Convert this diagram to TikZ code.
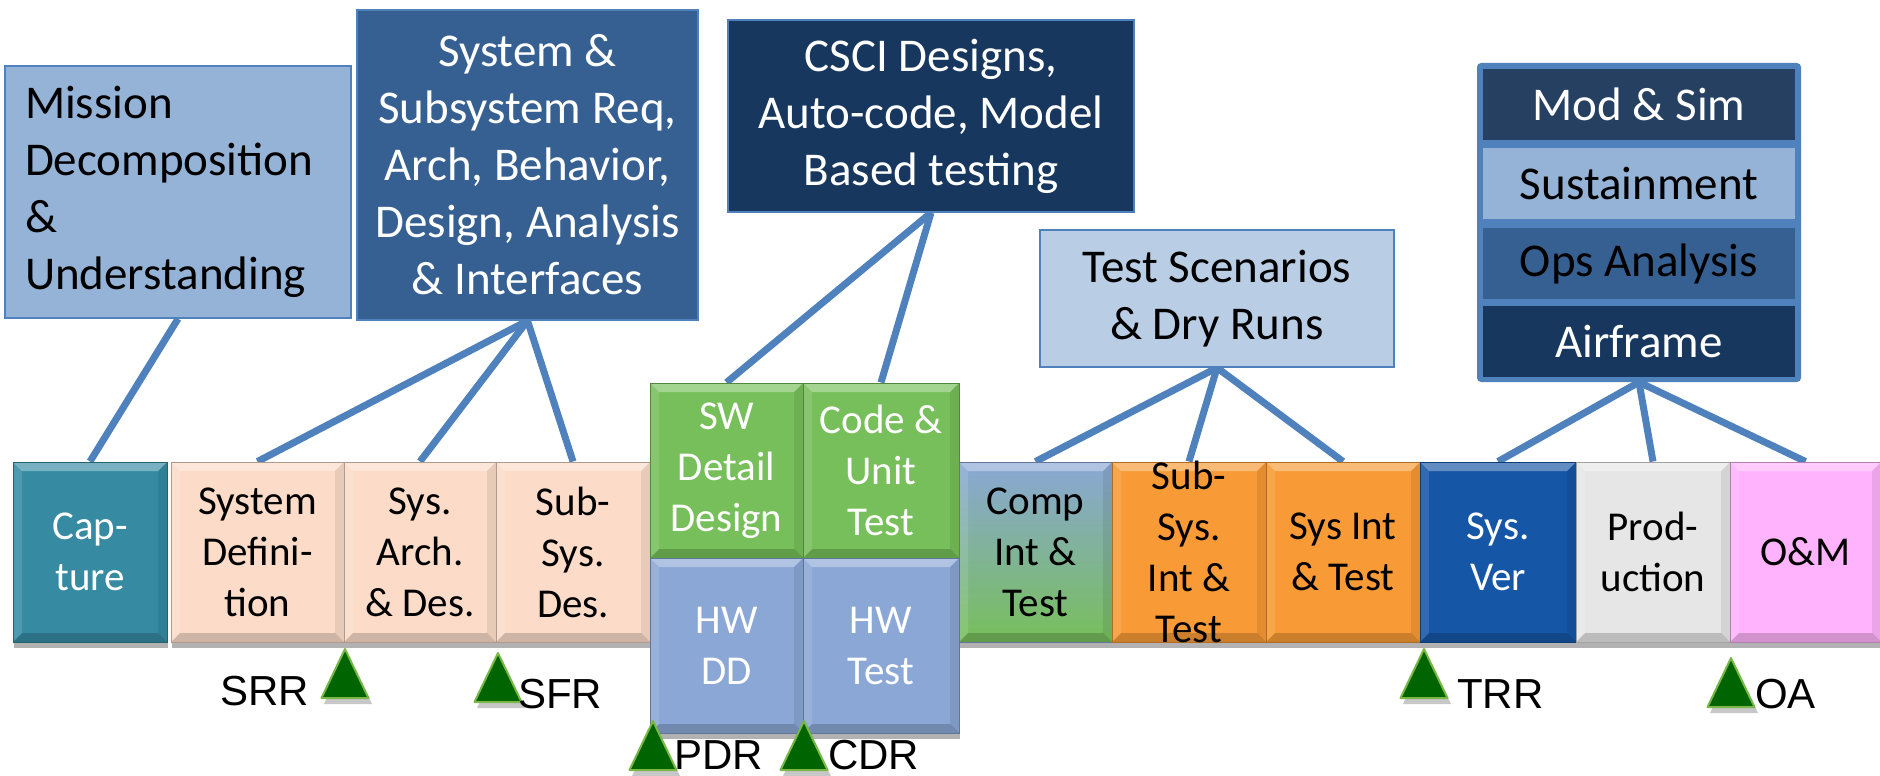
\documentclass[tikz,border=0pt]{standalone}
\usepackage{fontspec}
\setmainfont{Carlito}
\newfontfamily\arialfont{Liberation Sans}
\usetikzlibrary{shadows,backgrounds,calc}

\definecolor{linkblue}{HTML}{4F81BD}
\definecolor{missionfill}{HTML}{95B3D7}
\definecolor{sysfill}{HTML}{376092}
\definecolor{cscifill}{HTML}{17375E}
\definecolor{testfill}{HTML}{B9CDE5}
\definecolor{modsimfill}{HTML}{254061}
\definecolor{capcol}{HTML}{368BA3}
\definecolor{peach}{HTML}{FCDCC9}
\definecolor{swgreen}{HTML}{77BF5A}
\definecolor{hwblue}{HTML}{8AA7D6}
\definecolor{orng}{HTML}{F89A35}
\definecolor{verblue}{HTML}{1556A7}
\definecolor{prodgray}{HTML}{E6E6E6}
\definecolor{ompink}{HTML}{FFB3FC}
\definecolor{msgreen}{HTML}{006400}
\definecolor{mslime}{HTML}{7AB648}

\newcommand{\milestone}[2]{%
  \fill[black,opacity=0.22] (#1+3,#2+6) -- (#1+27,#2+55) -- (#1-21,#2+55) -- cycle;
  \filldraw[fill=msgreen, draw=mslime, line width=2pt, line join=round] (#1,#2) -- (#1+23.5,#2+49) -- (#1-23.5,#2+49) -- cycle;
}

\begin{document}
\begin{tikzpicture}[x=1pt,y=-1pt,
  bevel/.style={path picture={
    \fill[white,opacity=0.33] (path picture bounding box.north west) -- (path picture bounding box.north east) -- ([shift={(-9pt,-9pt)}]path picture bounding box.north east) -- ([shift={(9pt,-9pt)}]path picture bounding box.north west) -- cycle;
    \fill[black,opacity=0.18] (path picture bounding box.south west) -- (path picture bounding box.south east) -- ([shift={(-9pt,9pt)}]path picture bounding box.south east) -- ([shift={(9pt,9pt)}]path picture bounding box.south west) -- cycle;
    \fill[black,opacity=0.08] (path picture bounding box.north east) -- (path picture bounding box.south east) -- ([shift={(-9pt,9pt)}]path picture bounding box.south east) -- ([shift={(-9pt,-9pt)}]path picture bounding box.north east) -- cycle;
    \fill[white,opacity=0.12] (path picture bounding box.north west) -- (path picture bounding box.south west) -- ([shift={(9pt,9pt)}]path picture bounding box.south west) -- ([shift={(9pt,-9pt)}]path picture bounding box.north west) -- cycle;
  }},
  phase/.style={draw=#1!70!black, fill=#1, line width=1pt, inner sep=0pt, align=center,
    font=\fontsize{41}{51}\selectfont, bevel,
    drop shadow={shadow xshift=1pt, shadow yshift=-6pt, opacity=0.3, fill=black}},
  topbox/.style={draw=linkblue, line width=1.5pt, inner sep=0pt, align=center,
    font=\fontsize{47}{57}\selectfont},
  cell/.style={fill=#1, inner sep=0pt, minimum width=312pt, minimum height=71pt,
    font=\fontsize{47}{57}\selectfont},
  link/.style={draw=linkblue, line width=7pt},
  mslabel/.style={font=\arialfont\fontsize{42}{50}\selectfont, anchor=base west, inner sep=0pt}
]
\useasboundingbox (0,0) rectangle (1880,776);

% ---- top boxes
\node[topbox, fill=missionfill, minimum width=346pt, minimum height=252pt,
      align=left, text width=306pt] (mission) at (178,192)
  {Mission\\Decomposition\\\&\\Understanding};
\node[topbox, fill=sysfill, text=white, minimum width=341pt, minimum height=310pt] (system) at (527.5,165)
  {System \&\\Subsystem Req,\\Arch, Behavior,\\Design, Analysis\\\& Interfaces};
\node[topbox, fill=cscifill, text=white, minimum width=406pt, minimum height=192pt] (csci) at (931,116)
  {CSCI Designs,\\Auto-code, Model\\Based testing};
\node[topbox, fill=testfill, minimum width=354pt, minimum height=137pt] (test) at (1217,298.5)
  {Test Scenarios\\\& Dry Runs};

\node[fill=linkblue, rounded corners=4pt, minimum width=324pt, minimum height=319pt, inner sep=0pt] (stack) at (1639,222.5) {};
\node[cell=modsimfill, text=white] (modsim) at (1639,104.5) {Mod \& Sim};
\node[cell=missionfill] (sustain) at (1639,183.5) {Sustainment};
\node[cell=sysfill] (opsan) at (1639,263.5) {Ops Analysis};
\node[cell=cscifill, text=white] (airframe) at (1639,341.5) {Airframe};

% ---- phase boxes
\node[phase=capcol, text=white, minimum width=154pt, minimum height=180pt] (capture) at (90,552) {Cap-\\ture};
\node[phase=peach, minimum width=173pt, minimum height=180pt] (sysdef) at (257.5,552) {System\\Defini-\\tion};
\node[phase=peach, minimum width=152pt, minimum height=180pt] (sysarch) at (420,552) {Sys.\\Arch.\\\& Des.};
\node[phase=peach, minimum width=154pt, minimum height=180pt] (subsysdes) at (573,552) {Sub-\\Sys.\\Des.};

\node[phase=swgreen, text=white, minimum width=153pt, minimum height=175pt] (swdd) at (726.5,470.5) {SW\\Detail\\Design};
\node[phase=swgreen, text=white, minimum width=156pt, minimum height=175pt] (code) at (881,470.5) {Code \&\\Unit\\Test};
\node[phase=hwblue, text=white, minimum width=153pt, minimum height=175pt] (hwdd) at (726.5,645.5) {HW\\DD};
\node[phase=hwblue, text=white, minimum width=156pt, minimum height=175pt] (hwtest) at (881,645.5) {HW\\Test};

\node[phase=hwblue, top color=hwblue, bottom color=swgreen, minimum width=153pt, minimum height=180pt] (comp) at (1035.5,552) {Comp\\Int \&\\Test};
\node[phase=orng, minimum width=154pt, minimum height=180pt] (subsysint) at (1189,552) {};
\node[align=center, inner sep=0pt, font=\fontsize{41}{51}\selectfont] (subsysintT) at (subsysint.center) {Sub-\\Sys.\\Int \&\\Test};
\node[phase=orng, minimum width=154pt, minimum height=180pt] (sysint) at (1343,552) {Sys Int\\\& Test};
\node[phase=verblue, text=white, minimum width=156pt, minimum height=180pt] (sysver) at (1498,552) {Sys.\\Ver};
\node[phase=prodgray, minimum width=154pt, minimum height=180pt] (prod) at (1653,552) {Prod-\\uction};
\node[phase=ompink, minimum width=151pt, minimum height=180pt] (om) at (1805.5,552) {O\&M};

% ---- connectors
\begin{pgfonlayer}{background}
\draw[link] (mission.south) -- (capture.north);
\draw[link] (system.south) -- (sysdef.north);
\draw[link] (system.south) -- (sysarch.north);
\draw[link] (system.south) -- (subsysdes.north);
\draw[link] (csci.south) -- (swdd.north);
\draw[link] (csci.south) -- (code.north);
\draw[link] (test.south) -- (comp.north);
\draw[link] (test.south) -- (subsysint.north);
\draw[link] (test.south) -- (sysint.north);
\draw[link] (stack.south) -- (sysver.north);
\draw[link] (stack.south) -- (prod.north);
\draw[link] (stack.south) -- (om.north);
\end{pgfonlayer}

% ---- milestones
\milestone{345}{649}
\milestone{498}{653}
\milestone{653}{721}
\milestone{804}{721}
\milestone{1424}{649}
\milestone{1731}{658}

\node[mslabel] (srr) at (220,705) {SRR};
\node[mslabel] (sfr) at (518,708) {SFR};
\node[mslabel] (pdr) at (674,769) {PDR};
\node[mslabel] (cdr) at (828,769) {CDR};
\node[mslabel] (trr) at (1457,708) {TRR};
\node[mslabel] (oa) at (1755,708) {OA};
\end{tikzpicture}
\end{document}
